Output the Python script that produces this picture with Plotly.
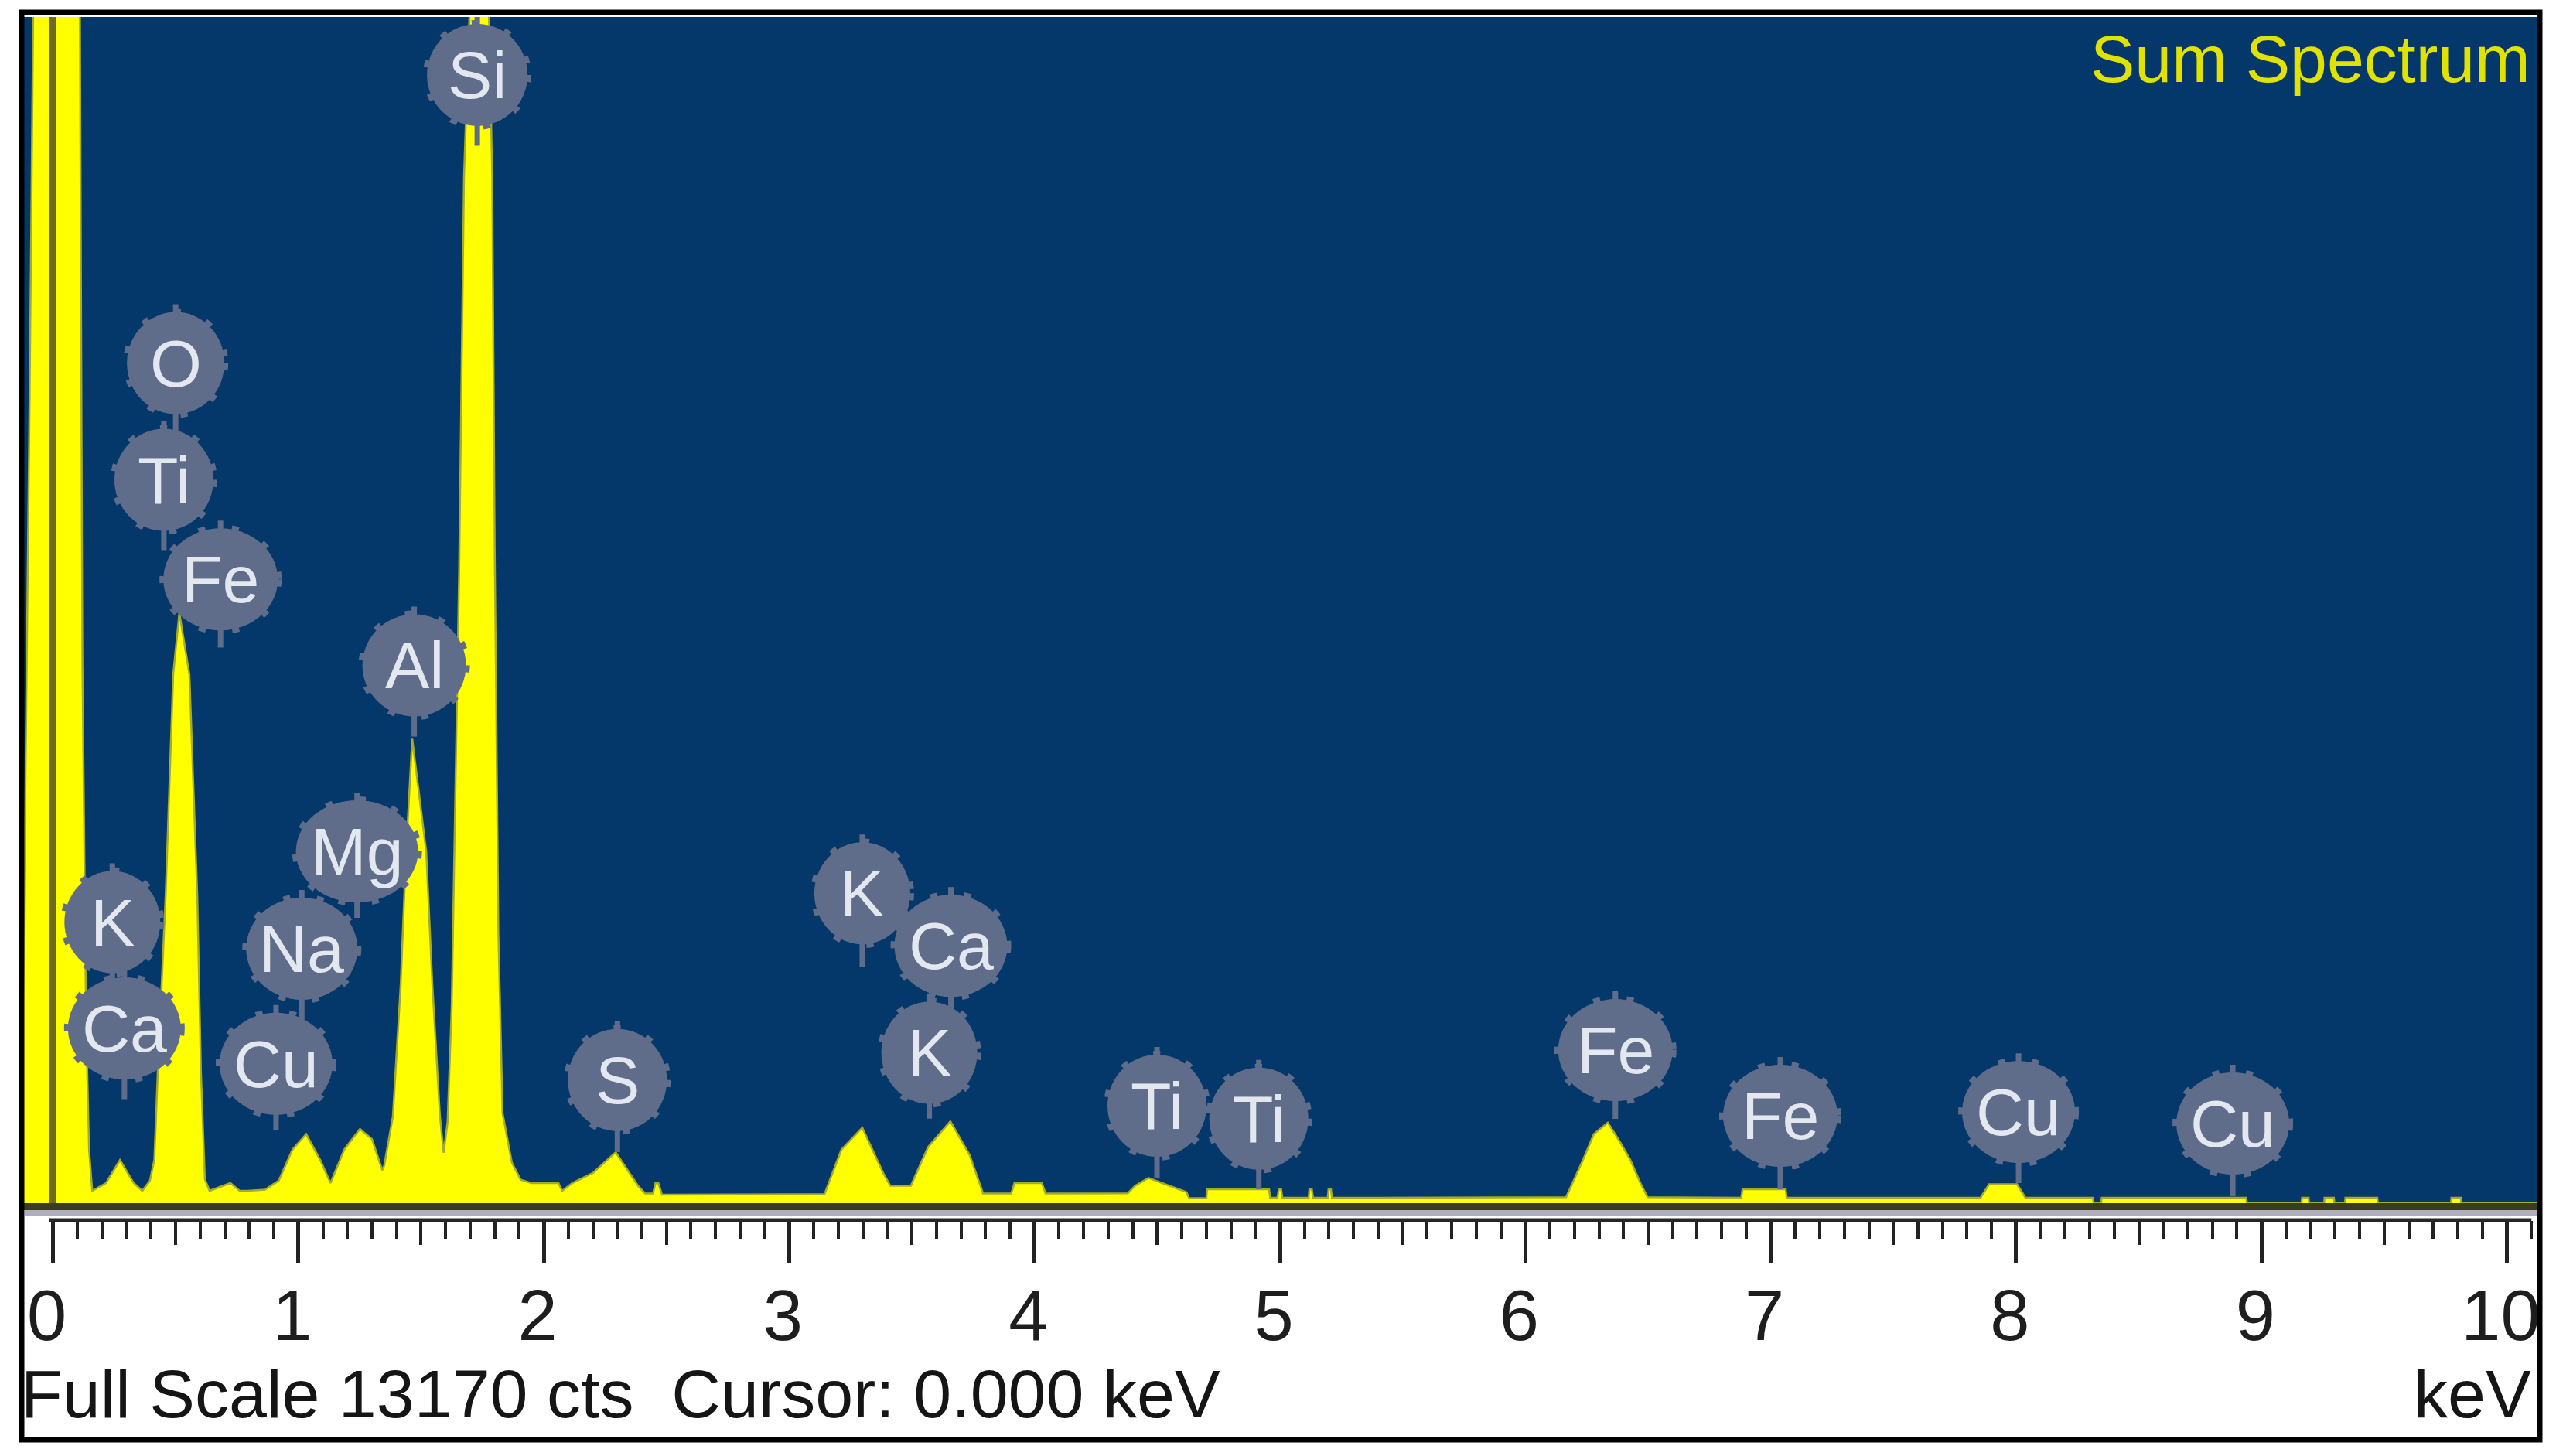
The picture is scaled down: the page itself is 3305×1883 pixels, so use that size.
import plotly.graph_objects as go

# ---------------- data ----------------
full_scale_cts = 13170
cursor_kev = 0.0

energy_kev = [
    -0.13, -0.125, -0.095, -0.071, 0.106, 0.12, 0.135, 0.147, 0.160, 0.216,
    0.273, 0.329, 0.364, 0.395, 0.413, 0.427, 0.459, 0.490, 0.515, 0.556,
    0.588, 0.603, 0.619, 0.638, 0.680, 0.723, 0.760, 0.793, 0.864, 0.920,
    0.976, 1.032, 1.089, 1.131, 1.187, 1.251, 1.300, 1.342, 1.350, 1.385,
    1.417, 1.439, 1.464, 1.521, 1.546, 1.577, 1.592, 1.608, 1.625, 1.655,
    1.675, 1.700, 1.775, 1.790, 1.800, 1.815, 1.832, 1.870, 1.906, 1.950,
    2.060, 2.075, 2.116, 2.201, 2.293, 2.384, 2.413, 2.445, 2.455, 2.467,
    2.482, 3.144, 3.213, 3.298, 3.383, 3.412, 3.496, 3.566, 3.657, 3.735,
    3.783, 3.790, 3.905, 3.918, 4.030, 4.045, 4.380, 4.410, 4.464, 4.548,
    4.619, 4.630, 4.700, 4.703, 4.956, 4.960, 4.990, 4.995, 5.005, 5.010,
    5.117, 5.120, 5.130, 5.135, 5.195, 5.198, 5.208, 5.212, 6.166, 6.235,
    6.279, 6.336, 6.386, 6.428, 6.469, 6.498, 6.880, 6.885, 7.061, 7.065,
    7.855, 7.890, 8.004, 8.038, 8.313, 8.316, 8.346, 8.349, 8.938, 8.941,
    9.163, 9.165, 9.192, 9.194, 9.255, 9.257, 9.295, 9.297, 9.340, 9.342,
    9.472, 9.474, 9.772, 9.774, 9.812, 9.814, 10.20,
]
counts = [
    0, 1500, 9000, 16000, 16000, 6000, 2000, 600, 137, 223,
    480, 223, 137, 250, 480, 1450, 3415, 5869, 6555, 5869,
    3415, 1450, 266, 137, 180, 223, 140, 137, 150, 250,
    595, 766, 480, 223, 595, 824, 710, 366, 420, 961,
    2428, 3904, 5157, 3904, 2428, 961, 560, 900, 2200, 7000,
    11400, 13400, 13400, 11400, 7300, 3000, 1000, 450, 260, 223,
    223, 137, 223, 337, 566, 194, 108, 108, 223, 223,
    94, 100, 595, 838, 337, 194, 194, 623, 909, 537,
    166, 108, 108, 223, 223, 108, 110, 194, 280, 194,
    123, 55, 55, 154, 154, 60, 60, 154, 154, 60,
    60, 154, 154, 60, 60, 154, 154, 60, 66, 480,
    766, 895, 680, 480, 223, 66, 60, 154, 154, 60,
    60, 210, 210, 60, 60, 0, 0, 60, 60, 0,
    0, 60, 60, 0, 0, 60, 60, 0, 0, 60,
    60, 0, 0, 60, 60, 0, 0,
]

label_names = ["Si", "O", "Ti", "Fe", "Al", "Mg", "K", "Ca", "Na", "Cu",
               "S", "K", "Ca", "K", "Ti", "Ti", "Fe", "Fe", "Cu", "Cu"]
label_kev = [1.729, 0.500, 0.452, 0.683, 1.472, 1.239, 0.242, 0.291, 1.014, 0.909,
             2.300, 3.298, 3.659, 3.571, 4.499, 4.914, 6.367, 7.039, 8.010, 8.883]
label_cts = [12527, 9327, 8031, 6926, 5972, 3906, 3120, 1940, 2825, 1547,
             1367, 3440, 2857, 1670, 1081, 938, 1699, 970, 1012, 884]
stem_end_cts = [11741, 8031, 7250, 6169, 5182, 3169, 1940, 1154, 1547, 811,
                566, 2625, 1670, 938, 283, 154, 935, 154, 223, 77]

tick_values = [0, 1, 2, 3, 4, 5, 6, 7, 8, 9, 10]
tick_labels = ["0", "1", "2", "3", "4", "5", "6", "7", "8", "9", "10"]
half_tick_values = [0.5, 1.5, 2.5, 3.5, 4.5, 5.5, 6.5, 7.5, 8.5, 9.5]
minor_tick_values = [round(i * 0.1, 1) for i in range(1, 102) if i % 5 != 0]

# ---------------- layout / style ----------------
# The page body has an 8px margin, so the figure is drawn 8px in from the window edge.
OFF = 8
WIN_W, WIN_H = 3305, 1883
W, H = WIN_W - 2 * OFF, WIN_H - 2 * OFF
# plot area in window pixels: x 31..3280, y 22..1556
ML = 31 - OFF
MR = WIN_W - 3280 - OFF
MT = 22 - OFF
MB = WIN_H - 1866 - OFF
PLOT_BOTTOM_PX = 1556
PAPER_H = H - MT - MB
PAPER_W = W - ML - MR
X_RANGE = [-0.1182, 10.1213]
CPP = full_scale_cts / (PLOT_BOTTOM_PX - 22)  # counts per pixel

FONT = "Liberation Sans, Arial, Helvetica, sans-serif"
BLUE = "#05386A"
BADGE = "#5F6D8B"
BADGE_TEXT = "#E3E7EF"
BADGE_H = 132
BADGE_W = {"Si": 130, "O": 126, "Ti": 128, "Fe": 148, "Al": 134, "Mg": 158,
           "K": 124, "Ca": 146, "Na": 144, "Cu": 146, "S": 128}


def py(px):
    """window pixel row -> paper y"""
    return (H - MB - (px - OFF)) / PAPER_H


def pxx(px):
    """window pixel column -> paper x"""
    return (px - OFF - ML) / PAPER_W


fig = go.Figure()
fig.add_trace(go.Scatter(
    x=energy_kev, y=counts, mode="lines", fill="tozeroy",
    fillcolor="#FFFF00", line=dict(color="#A3AA2C", width=2.5),
    hoverinfo="skip", showlegend=False,
))
# helper traces so the ruler axes are drawn
for ax_id in ("x2", "x3", "x4"):
    fig.add_trace(go.Scatter(x=[0], y=[None], xaxis=ax_id, yaxis="y",
                             showlegend=False, hoverinfo="skip"))

shapes = []
# cursor line
shapes.append(dict(type="line", xref="x", yref="y", x0=cursor_kev, x1=cursor_kev,
                   y0=0, y1=full_scale_cts, line=dict(color="#6E6B1F", width=9), layer="above"))
# stems
for name, xk, yc, ye in zip(label_names, label_kev, label_cts, stem_end_cts):
    top = yc + (BADGE_H / 2 + 10) * CPP
    shapes.append(dict(type="line", xref="x", yref="y", x0=xk, x1=xk, y0=ye, y1=top,
                       line=dict(color=BADGE, width=7), layer="above"))
# badges
for name, xk, yc in zip(label_names, label_kev, label_cts):
    w = BADGE_W[name]
    shapes.append(dict(type="circle", xref="x", yref="y",
                       xsizemode="pixel", ysizemode="pixel",
                       xanchor=xk, yanchor=yc,
                       x0=-w / 2, x1=w / 2, y0=-BADGE_H / 2, y1=BADGE_H / 2,
                       fillcolor=BADGE, line=dict(color=BADGE, width=10, dash="9px,34px"),
                       layer="above"))
# grey band under the plot, ruler line, outer frame
shapes.append(dict(type="rect", xref="paper", yref="paper", x0=pxx(32), x1=pxx(3280),
                   y0=py(1573), y1=py(1565), fillcolor="#AEAEBE", line=dict(width=0)))
shapes.append(dict(type="line", xref="x", yref="paper", x0=-0.015, x1=10.10,
                   y0=py(1578), y1=py(1578), line=dict(color="#262626", width=5)))
shapes.append(dict(type="rect", xref="paper", yref="paper",
                   x0=pxx(28), x1=pxx(3284), y0=py(1862), y1=py(16),
                   line=dict(color="#000000", width=7), fillcolor="rgba(0,0,0,0)"))

annotations = []
for name, xk, yc in zip(label_names, label_kev, label_cts):
    annotations.append(dict(x=xk, y=yc, xref="x", yref="y", text=name, showarrow=False,
                            xanchor="center", yanchor="middle",
                            font=dict(family=FONT, size=86, color=BADGE_TEXT)))
annotations.append(dict(x=pxx(3274), y=py(76), xref="paper", yref="paper",
                        text="Sum Spectrum", showarrow=False, xanchor="right", yanchor="middle",
                        font=dict(family=FONT, size=86, color="#E2E200")))
annotations.append(dict(x=pxx(25), y=py(1802), xref="paper", yref="paper",
                        text="Full Scale 13170 cts \u00a0Cursor: 0.000 keV", showarrow=False,
                        xanchor="left", yanchor="middle",
                        font=dict(family=FONT, size=88, color="#151515")))
annotations.append(dict(x=pxx(3275), y=py(1802), xref="paper", yref="paper",
                        text="keV", showarrow=False, xanchor="right", yanchor="middle",
                        font=dict(family=FONT, size=88, color="#151515")))

ruler_common = dict(overlaying="x", anchor="free", side="bottom", range=X_RANGE,
                    showgrid=False, zeroline=False, showline=False,
                    automargin=False, fixedrange=True, tickmode="array")

fig.update_layout(
    width=W, height=H,
    margin=dict(l=ML, r=MR, t=MT, b=MB, pad=0),
    paper_bgcolor="#FFFFFF", plot_bgcolor=BLUE,
    showlegend=False,
    xaxis=dict(range=X_RANGE, domain=[0, 1], showgrid=False, zeroline=False,
               showticklabels=False, ticks="", showline=True, linecolor="#3B3A22",
               linewidth=9, automargin=False, fixedrange=True),
    yaxis=dict(range=[0, full_scale_cts], domain=[py(PLOT_BOTTOM_PX), 1],
               showgrid=False, zeroline=False, showticklabels=False, ticks="",
               showline=False, automargin=False, fixedrange=True),
    # major (1 keV) and minor (0.1 keV) ruler ticks
    xaxis2=dict(**ruler_common, position=py(1578),
                ticks="outside", tickvals=tick_values, showticklabels=False,
                ticklen=55, tickwidth=5, tickcolor="#222222",
                minor=dict(tickmode="array", tickvals=minor_tick_values, ticks="outside",
                           ticklen=23, tickwidth=4, tickcolor="#222222", showgrid=False)),
    # half-keV ruler ticks
    xaxis3=dict(**ruler_common, position=py(1578),
                ticks="outside", tickvals=half_tick_values,
                ticklen=31, tickwidth=4, tickcolor="#222222", showticklabels=False),
    # ruler numbers
    xaxis4=dict(**ruler_common, position=py(1640),
                ticks="", tickvals=tick_values, ticktext=tick_labels,
                tickfont=dict(family=FONT, size=92, color="#1E1E1E"),
                ticklabelshift=-8),
    shapes=shapes,
    annotations=annotations,
)

fig.write_html("out.html")
